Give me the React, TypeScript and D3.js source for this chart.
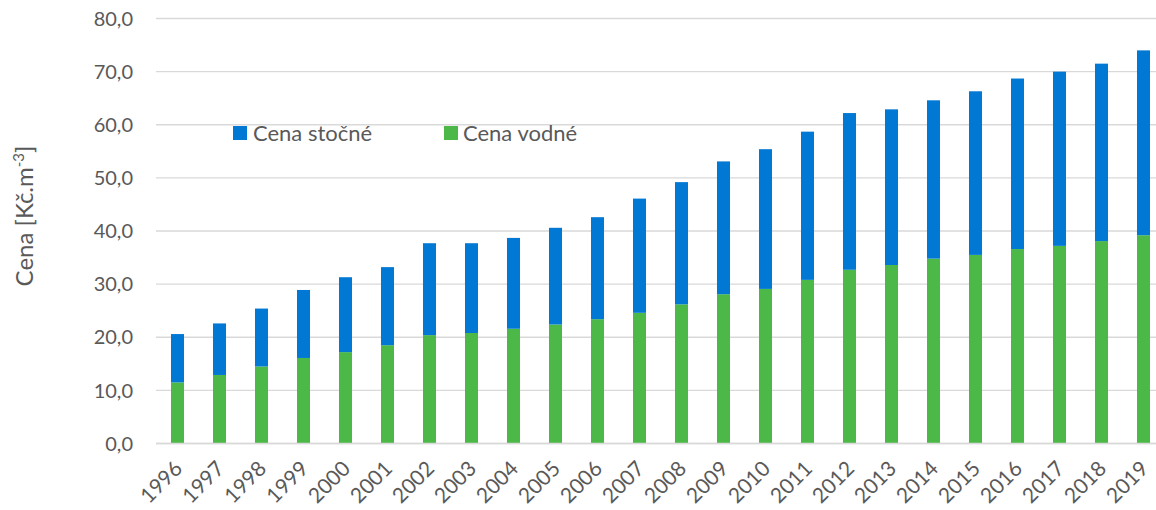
import React from "react";
import * as d3 from "d3";

const years = ["1996","1997","1998","1999","2000","2001","2002","2003","2004","2005","2006","2007","2008","2009","2010","2011","2012","2013","2014","2015","2016","2017","2018","2019"];
const vodne = [11.5,12.9,14.5,16.1,17.2,18.5,20.4,20.8,21.6,22.4,23.4,24.6,26.2,28.1,29.1,30.8,32.7,33.6,34.8,35.5,36.6,37.2,38.1,39.2];
const celkem = [20.6,22.6,25.4,28.9,31.3,33.2,37.7,37.7,38.7,40.6,42.6,46.1,49.2,53.1,55.4,58.7,62.2,62.9,64.6,66.3,68.7,70.0,71.5,74.0];
const stocne = celkem.map((t, i) => +(t - vodne[i]).toFixed(1));
const yTicks = [0,10,20,30,40,50,60,70,80];

const W = 1156, H = 510;
const BLUE = "#0078d4";
const GREEN = "#4cb847";
const FONT = "Lato, 'Open Sans', sans-serif";

export default function App() {
  const x = d3.scaleBand<string>().domain(years).range([156.5, 1164.5]).paddingInner(0.69).paddingOuter(0.345);
  const y = d3.scaleLinear().domain([0, 80]).range([443.5, 18.5]);
  const bw = x.bandwidth();
  return (
    <svg width={W} height={H} style={{ position: "absolute", left: 0, top: 0, background: "#fff" }}>
      {yTicks.map(t => (
        <g key={t}>
          <line x1={156} x2={W} y1={y(t)} y2={y(t)} stroke="#d9d9d9" strokeWidth={1.3} />
          <text x={133} y={y(t)} dy="0.36em" textAnchor="end" fontFamily={FONT} fontSize={20} fill="#595959">
            {d3.format(".1f")(t).replace(".", ",")}
          </text>
        </g>
      ))}
      {years.map((yr, i) => {
        const x0 = x(yr)!;
        return (
          <g key={yr}>
            <rect x={x0} width={bw} y={y(vodne[i])} height={y(0) - y(vodne[i])} fill={GREEN} />
            <rect x={x0} width={bw} y={y(vodne[i] + stocne[i])} height={y(vodne[i]) - y(vodne[i] + stocne[i])} fill={BLUE} />
            <text transform={`translate(${x0 + bw / 2 + 6},${470}) rotate(-45)`} textAnchor="end"
              fontFamily={FONT} fontSize={21} fill="#595959">{yr}</text>
          </g>
        );
      })}
      <line x1={156} x2={W} y1={y(0)} y2={y(0)} stroke="#d9d9d9" strokeWidth={1.5} />
      <text transform={`translate(${33},${216}) rotate(-90)`} textAnchor="middle" fontFamily={FONT} fontSize={24} fill="#595959">
        Cena [Kč.m<tspan dy="-9" fontSize={15}>-3</tspan><tspan dy="9">]</tspan>
      </text>
      <g>
        <rect x={233} y={126} width={14} height={14} fill={BLUE} />
        <text x={253} y={133} dy="0.36em" fontFamily={FONT} fontSize={22} fill="#595959">Cena stočné</text>
        <rect x={444} y={126} width={14} height={14} fill={GREEN} />
        <text x={463} y={133} dy="0.36em" fontFamily={FONT} fontSize={22} fill="#595959">Cena vodné</text>
      </g>
    </svg>
  );
}
